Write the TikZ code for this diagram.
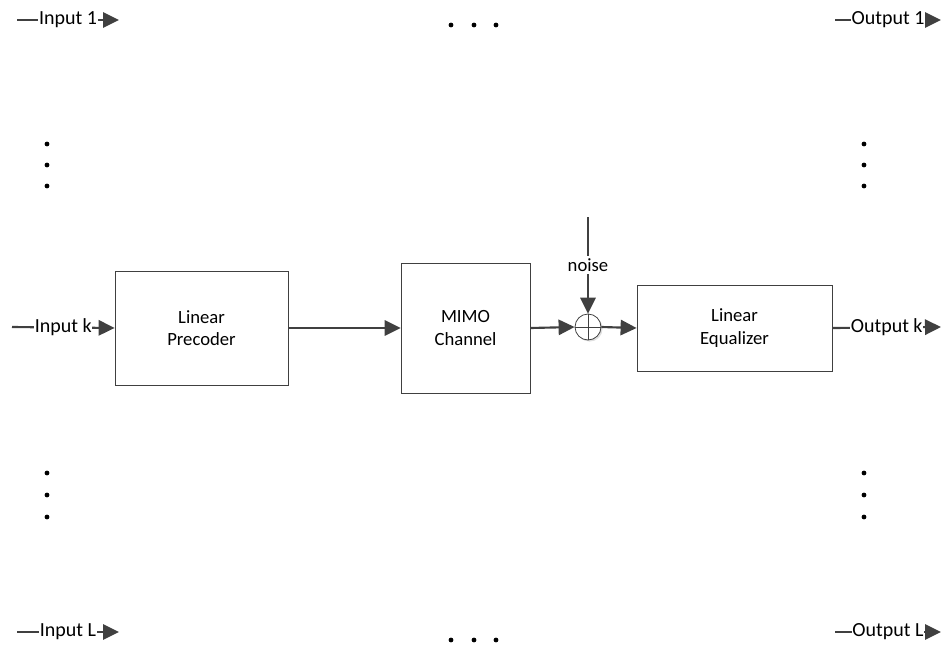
\documentclass[tikz,border=0pt]{standalone}
\usepackage{fontspec}
\setmainfont{Carlito}
\usetikzlibrary{arrows.meta,shadows}
\definecolor{linegray}{HTML}{404040}
\begin{document}
\begin{tikzpicture}[x=0.75pt,y=-0.75pt,
    line/.style={draw=linegray, line width=1.6pt},
    arr/.style={line, -{Triangle[length=12pt,width=11.5pt]}},
    block/.style={draw=linegray, line width=0.6pt, align=center, inner sep=0pt, font=\fontsize{14}{17}\selectfont},
    lbl/.style={fill=white, inner sep=0.5pt, font=\fontsize{15}{18}\selectfont},
    dot/.style={circle, fill=black, inner sep=0pt, minimum size=3.6pt}]
    \useasboundingbox (0,0) rectangle (943,654);

    % blocks
    \node[block, minimum width=129.75pt, minimum height=85.5pt] (prec) at (201.5,328) {Linear\\Precoder};
    \node[block, minimum width=96.75pt, minimum height=97.5pt] (chan) at (465.5,328) {MIMO\\Channel};
    \node[block, minimum width=146.25pt, minimum height=64.5pt] (equ) at (734.5,328) {Linear\\Equalizer};
    \node[circle, draw=linegray, line width=0.6pt, fill=white, minimum size=19.5pt, inner sep=0pt,
          drop shadow={opacity=0.25, shadow xshift=1.2pt, shadow yshift=-1.2pt}] (sum) at (588,327) {};
    \draw[linegray, line width=0.5pt] (sum.north) -- (sum.south) (sum.west) -- (sum.east);

    % free ends
    \coordinate (in1) at (17,20);   \coordinate (in1e) at (119,20);
    \coordinate (ink) at (12,327);
    \coordinate (inL) at (17,632);  \coordinate (inLe) at (119,632);
    \coordinate (out1) at (835,20); \coordinate (out1e) at (941,20);
    \coordinate (outk) at (941,327);
    \coordinate (outL) at (835,632); \coordinate (outLe) at (941,632);
    \coordinate (nz) at (588,217);

    % inputs and outputs
    \draw[arr] (in1) to node[lbl] {Input 1} (in1e);
    \draw[arr] (ink) to node[lbl] {Input k} (prec.west);
    \draw[arr] (inL) to node[lbl] {Input L} (inLe);
    \draw[arr] (out1) to node[lbl] {Output 1} (out1e);
    \draw[arr] (equ.east) to node[lbl] {Output k} (outk);
    \draw[arr] (outL) to node[lbl] {Output L} (outLe);

    % signal path
    \draw[arr] (prec.east) to (chan.west);
    \draw[arr] (chan.east) to (sum.west);
    \draw[arr] (sum.east) to (equ.west);
    \draw[arr] (nz) to node[lbl, inner sep=2pt, font=\fontsize{14}{17}\selectfont] {noise} (sum.north);

    % dots
    \foreach \x in {451,474,496} {
        \node[dot] at (\x,25) {};
        \node[dot] at (\x,640) {};
    }
    \foreach \y in {144,165,186,473,495,517} {
        \node[dot] at (47,\y) {};
        \node[dot] at (864,\y) {};
    }
\end{tikzpicture}
\end{document}
